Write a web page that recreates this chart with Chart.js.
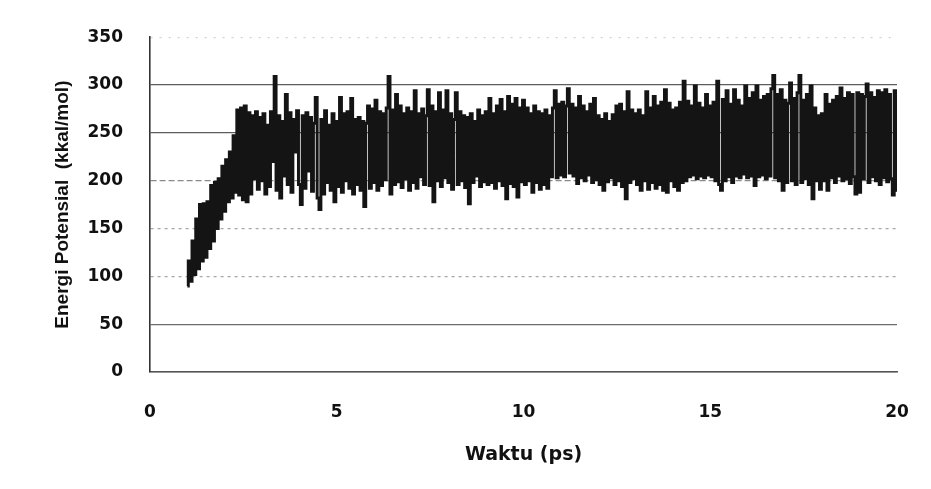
<!DOCTYPE html>
<html>
<head>
<meta charset="utf-8">
<script src="https://cdn.jsdelivr.net/npm/chart.js@4/dist/chart.umd.min.js"></script>
<style>
  html, body { margin: 0; padding: 0; background: #ffffff; }
  canvas { display: block; }
</style>
</head>
<body>
<canvas id="grafik" width="931" height="489"></canvas>
<script>
// Potential energy of the system during the MD run, sampled every 0.05 ps from 1.00 ps.
const tAwal = 1.0;   // first sample (ps)
const dt = 0.05;     // sampling interval (ps)

// 1.00 – 2.95 ps : heating / equilibration ramp
const energi_1_3 = [
  90,116,95,137,102,160,108,175,116,176,120,178,129,195,137,198,150,202,160,215,
  168,222,178,230,182,247,188,274,185,276,180,278,178,271,186,268,202,272,191,266
];
// 3.00 – 5.95 ps
const energi_3_6 = [
  200,270,186,258,194,272,220,309,190,268,182,262,205,290,196,271,188,264,230,273,
  196,175,268,192,271,210,266,189,260,287,182,170,264,186,273,198,258,190,270,178,
  262,194,287,188,270,200,272,192,286,186,264,196,266,190,262,173,260,278,192,275
];
// 6.00 – 8.95 ps
const energi_6_9 = [
  198,284,190,272,195,270,201,276,309,186,274,196,290,199,278,193,270,202,276,190,
  272,198,294,192,270,204,275,196,268,295,195,278,178,272,200,292,194,274,203,294,
  198,270,191,264,292,196,272,200,268,193,266,176,270,198,262,205,274,194,268,199
];
// 9.00 – 11.95 ps
const energi_9_12 = [
  272,196,286,198,270,192,278,200,285,195,272,181,288,197,280,194,286,183,276,199,
  284,196,276,200,270,188,278,198,272,191,270,196,274,192,268,204,276,294,203,280,
  206,282,204,278,296,208,280,205,276,197,288,203,278,200,272,206,280,198,286,201
];
// 12.00 – 14.95 ps
const energi_12_15 = [
  268,196,264,190,270,199,262,203,269,196,278,200,280,194,272,181,293,198,274,202,
  270,196,274,190,268,200,293,191,276,198,288,192,278,196,282,190,295,188,281,200,
  274,194,276,190,282,198,304,200,283,204,278,206,299,202,281,205,276,203,290,206
];
// 15.00 – 17.95 ps
const energi_15_18 = [
  278,204,282,200,304,196,190,285,200,294,204,280,198,295,205,284,203,278,207,299,
  203,286,205,292,195,299,204,284,206,288,202,290,205,296,310,203,290,200,295,190,
  284,198,281,302,200,286,196,292,310,198,284,202,290,196,299,181,276,200,268,191
];
// 18.00 – 20.00 ps
const energi_18_20 = [
  270,200,290,190,280,203,284,198,288,205,297,200,286,202,292,197,290,204,186,292,
  188,290,202,288,301,198,292,204,287,200,294,196,292,203,295,199,290,202,185,294,
  190
];

// Axis ticks and labels
const yTicks = [0, 50, 100, 150, 200, 250, 300, 350];
const xTicks = [0, 5, 10, 15, 20];
const judulX = 'Waktu (ps)';
const judulY = 'Energi Potensial  (kkal/mol)';

const energi = [].concat(energi_1_3, energi_3_6, energi_6_9, energi_9_12,
                         energi_12_15, energi_15_18, energi_18_20);
const titik = energi.map((e, i) => ({ x: +(tAwal + i * dt).toFixed(2), y: e }));

// Horizontal gridline look, per tick value
const warnaGrid = { 0: '#6c6c6c', 50: '#6c6c6c', 100: '#a8a8a8', 150: '#a8a8a8',
                    200: '#8a8a8a', 250: '#5c5c5c', 300: '#5c5c5c', 350: 'rgba(0,0,0,0.18)' };
const dashGrid = { 100: [3, 4], 150: [3, 4], 200: [6, 3], 350: [2, 7] };

const fontAngka = { family: '"DejaVu Sans", sans-serif', weight: 'bold', size: 17 };

new Chart(document.getElementById('grafik'), {
  type: 'line',
  data: {
    datasets: [{
      data: titik,
      borderColor: '#141414',
      borderWidth: 3,
      stepped: 'middle',
      pointRadius: 0,
      fill: false
    }]
  },
  options: {
    responsive: false,
    animation: false,
    devicePixelRatio: 1,
    layout: { padding: { top: 33, right: 34, bottom: 0, left: 0 } },
    plugins: { legend: { display: false }, tooltip: { enabled: false } },
    scales: {
      x: {
        type: 'linear',
        min: 0, max: 20,
        afterBuildTicks: s => { s.ticks = xTicks.map(v => ({ value: v })); },
        afterFit: s => { s.height = 117; s.paddingLeft = 0; s.paddingRight = 0; },
        grid: { display: false, drawTicks: false },
        border: { display: true, color: '#555', width: 1.5, dash: [7, 2] },
        ticks: { color: '#111', font: fontAngka, padding: 30, maxRotation: 0 },
        title: {
          display: true, text: judulX, color: '#111',
          font: { family: '"DejaVu Sans", sans-serif', weight: 'bold', size: 19 },
          padding: { top: 0, bottom: 23 }
        }
      },
      y: {
        min: 0, max: 350,
        afterBuildTicks: s => { s.ticks = yTicks.map(v => ({ value: v })); },
        afterFit: s => { s.width = 150; },
        grid: {
          drawTicks: false,
          lineWidth: 1.3,
          color: c => (c.tick ? (warnaGrid[c.tick.value] || '#888') : '#888')
        },
        border: {
          display: true, color: '#333', width: 1.6,
          dash: c => (c.tick ? (dashGrid[c.tick.value] || []) : [])
        },
        ticks: { color: '#111', font: fontAngka, padding: 27 },
        title: {
          display: true, text: judulY, color: '#111',
          font: { family: '"Liberation Sans Narrow", "Liberation Sans", sans-serif', weight: 'bold', size: 19 },
          padding: { top: 51, bottom: 0 }
        }
      }
    }
  }
});
</script>
</body>
</html>
